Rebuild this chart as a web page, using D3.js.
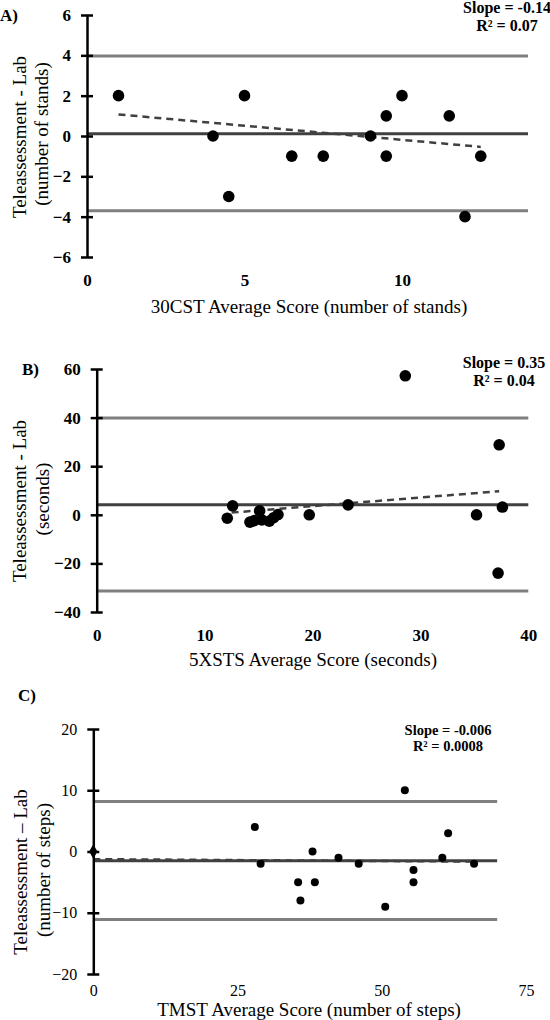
<!DOCTYPE html>
<html><head><meta charset="utf-8">
<script src="https://cdn.jsdelivr.net/npm/d3@7"></script>
<style>body{margin:0;background:#fff}svg{display:block}text{font-family:"Liberation Serif","Times New Roman",serif;fill:#000}</style>
</head><body>
<svg id="chart" width="550" height="1020"></svg>
<script>
// Panel A: 30CST
const aX = [1, 4, 4.5, 5, 6.5, 7.5, 9, 9.5, 9.5, 10, 11.5, 12, 12.5];
const aY = [2, 0, -3, 2, -1, -1, 0, 1, -1, 2, 1, -4, -1];
const aLimits = [3.97, 0.11, -3.71]; // upper LoA, mean bias, lower LoA
const aTrend = [[1, 1.07], [12.5, -0.54]];
const aXTicks = [0, 5, 10];
const aYTicks = [-6, -4, -2, 0, 2, 4, 6];

// Panel B: 5XSTS
const bX = [12.1, 12.6, 14.2, 14.6, 15.1, 15.3, 16.0, 16.4, 16.8, 19.7, 23.3, 28.6, 35.2, 37.2, 37.3, 37.6];
const bY = [-1.4, 3.7, -3.0, -2.4, 1.6, -2.1, -2.6, -1.2, 0.1, 0, 4.1, 57.2, 0, -24.0, 28.8, 3.2];
const bLimits = [39.8, 4.1, -31.4];
const bTrend = [[12.5, 0.9], [37.3, 9.7]];
const bXTicks = [0, 10, 20, 30, 40];
const bYTicks = [-40, -20, 0, 20, 40, 60];

// Panel C: TMST
const cX = [0, 28, 29, 35.5, 35.9, 38, 38.4, 42.5, 46, 50.6, 54, 55.5, 55.5, 60.5, 61.5, 66];
const cY = [0, 4, -2, -5, -8, 0, -5, -1, -2, -9, 10, -3, -5, -1, 3, -2];
const cLimits = [8.16, -1.53, -11.1];
const cTrend = [[0, -1.25], [66, -1.65]];
const cXTicks = [0, 25, 50, 75];
const cYTicks = [-20, -10, 0, 10, 20];

const svg = d3.select("#chart");

function panel(cfg) {
  const g = svg.append("g");
  const x = d3.scaleLinear().domain(cfg.xDomain).range(cfg.xRange);
  const y = d3.scaleLinear().domain(cfg.yDomain).range(cfg.yRange);
  const lineEnd = cfg.lineEnd;
  const colors = ["#7f7f7f", "#404040", "#7f7f7f"];
  // reference lines
  cfg.limits.forEach((v, i) => {
    g.append("line").attr("x1", x(0)).attr("x2", x(lineEnd))
      .attr("y1", y(v)).attr("y2", y(v))
      .attr("stroke", colors[i]).attr("stroke-width", 3);
  });
  // trend
  g.append("path").datum(cfg.trend)
    .attr("d", d3.line().x(d => x(d[0])).y(d => y(d[1])))
    .attr("stroke", "#404040").attr("stroke-width", 2.5)
    .attr("stroke-dasharray", "7,5").attr("fill", "none");
  // y axis
  const ya = g.append("g").attr("transform", `translate(${x(0)},0)`)
    .call(d3.axisLeft(y).tickValues(cfg.yTicks).tickSizeInner(6).tickSizeOuter(0).tickPadding(10).tickFormat(d3.format("d")));
  ya.select(".domain").attr("stroke", "#000").attr("stroke-width", 2.5);
  ya.selectAll(".tick line").attr("x1", 6).attr("stroke", "#000").attr("stroke-width", 2.5);
  ya.selectAll(".tick text").attr("font-size", cfg.tickSize).attr("font-weight", cfg.tickWeight)
    .attr("font-family", "Liberation Serif");
  // x axis (labels only)
  const xa = g.append("g").attr("transform", `translate(0,${cfg.xLabelY})`)
    .call(d3.axisBottom(x).tickValues(cfg.xTicks).tickSize(0).tickPadding(0));
  xa.select(".domain").remove();
  xa.selectAll(".tick text").attr("font-size", cfg.tickSize).attr("font-weight", cfg.tickWeight)
    .attr("font-family", "Liberation Serif").attr("dy", "0.35em");
  // points
  const pts = cfg.xs.map((v, i) => [v, cfg.ys[i]]);
  g.selectAll("circle.pt").data(pts.filter(d => !(cfg.diamondAtZero && d[0] === 0)))
    .join("circle").attr("class", "pt")
    .attr("cx", d => x(d[0])).attr("cy", d => y(d[1])).attr("r", cfg.r).attr("fill", "#000");
  if (cfg.diamondAtZero) {
    g.selectAll("path.dm").data(pts.filter(d => d[0] === 0)).join("path").attr("class", "dm")
      .attr("transform", d => `translate(${x(d[0])},${y(d[1])})`)
      .attr("d", d3.symbol(d3.symbolDiamond, 60)).attr("fill", "#000");
  }
  // panel label
  g.append("text").attr("x", cfg.tag[1]).attr("y", cfg.tag[2]).attr("font-size", 17)
    .attr("font-weight", "bold").text(cfg.tag[0]);
  // slope text
  g.append("text").attr("x", cfg.stat.x).attr("y", cfg.stat.y).attr("text-anchor", "middle")
    .attr("font-size", cfg.stat.size).attr("font-weight", "bold").text(cfg.stat.l1);
  g.append("text").attr("x", cfg.stat.x).attr("y", cfg.stat.y + cfg.stat.size * 1.12).attr("text-anchor", "middle")
    .attr("font-size", cfg.stat.size).attr("font-weight", "bold").text(cfg.stat.l2);
  // x title
  g.append("text").attr("x", cfg.xTitle[1]).attr("y", cfg.xTitle[2]).attr("text-anchor", "middle")
    .attr("font-size", 19).text(cfg.xTitle[0]);
  // y title
  cfg.yTitle.forEach((t, i) => {
    g.append("text").attr("transform", `translate(${t[1]},${t[2]}) rotate(-90)`)
      .attr("text-anchor", "middle").attr("font-size", 19).text(t[0]);
  });
}

panel({
  xs: aX, ys: aY, limits: aLimits, trend: aTrend, xTicks: aXTicks, yTicks: aYTicks,
  xDomain: [0, 14], xRange: [87, 528], yDomain: [-6, 6], yRange: [257, 15], lineEnd: 14,
  xLabelY: 280, r: 5.8, tickSize: 17, tickWeight: "bold",
  tag: ["A)", 0, 21],
  stat: { x: 507, y: 13, size: 16, l1: "Slope = -0.14", l2: "R² = 0.07" },
  xTitle: ["30CST Average Score (number of stands)", 309, 313],
  yTitle: [["Teleassessment - Lab", 26, 137], ["(number of stands)", 48, 134]]
});
panel({
  xs: bX, ys: bY, limits: bLimits, trend: bTrend, xTicks: bXTicks, yTicks: bYTicks,
  xDomain: [0, 40], xRange: [96.7, 528.3], yDomain: [-40, 60], yRange: [612, 369], lineEnd: 40,
  xLabelY: 635, r: 5.8, tickSize: 17, tickWeight: "bold",
  tag: ["B)", 22, 375],
  stat: { x: 504, y: 368, size: 16, l1: "Slope = 0.35", l2: "R² = 0.04" },
  xTitle: ["5XSTS Average Score (seconds)", 313, 666],
  yTitle: [["Teleassessment - Lab", 26, 501], ["(seconds)", 49, 499]]
});
panel({
  xs: cX, ys: cY, limits: cLimits, trend: cTrend, xTicks: cXTicks, yTicks: cYTicks,
  xDomain: [0, 75], xRange: [93.3, 526], yDomain: [-20, 20], yRange: [974, 729], lineEnd: 70,
  xLabelY: 990, r: 4, tickSize: 16, tickWeight: "normal",
  diamondAtZero: true,
  tag: ["C)", 18, 701],
  stat: { x: 448, y: 735, size: 14.5, l1: "Slope = -0.006", l2: "R² = 0.0008" },
  xTitle: ["TMST Average Score (number of steps)", 309, 1016],
  yTitle: [["Teleassessment – Lab", 27, 872], ["(number of steps)", 50, 870]]
});
</script>
</body></html>
